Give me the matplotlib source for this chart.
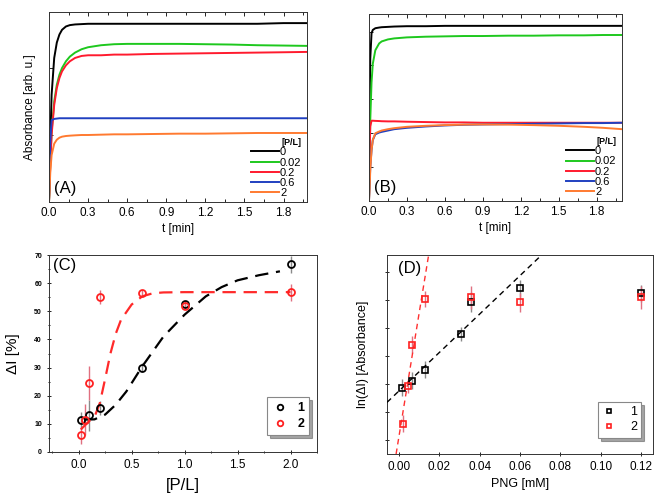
import matplotlib
matplotlib.use("Agg")
import matplotlib.pyplot as plt
import numpy as np

plt.rcParams['font.family'] = ['Liberation Sans', 'DejaVu Sans']

# ---------------- Panel A data ----------------
tA = [0.0, 0.01, 0.02, 0.04, 0.06, 0.08, 0.1, 0.13, 0.16, 0.2, 0.25, 0.3, 0.4, 0.5, 0.6, 0.8, 1.0, 1.2, 1.4, 1.6, 1.8, 1.98]
A_0 = [0.0, 0.9, 1.6, 2.15, 2.38, 2.5, 2.57, 2.62, 2.64, 2.65, 2.655, 2.66, 2.66, 2.66, 2.66, 2.66, 2.66, 2.66, 2.66, 2.66, 2.67, 2.67]
A_002 = [0.0, 0.6, 1.05, 1.5, 1.75, 1.9, 2.0, 2.1, 2.17, 2.23, 2.28, 2.31, 2.34, 2.355, 2.36, 2.36, 2.36, 2.355, 2.35, 2.34, 2.335, 2.33]
A_02 = [0.0, 0.55, 1.0, 1.45, 1.7, 1.85, 1.95, 2.04, 2.1, 2.15, 2.18, 2.19, 2.19, 2.2, 2.2, 2.21, 2.215, 2.22, 2.225, 2.23, 2.235, 2.24]
A_06 = [0.0, 0.9, 1.22, 1.24, 1.245, 1.25, 1.25, 1.25, 1.25, 1.25, 1.25, 1.25, 1.25, 1.25, 1.25, 1.25, 1.25, 1.25, 1.25, 1.25, 1.25, 1.25]
A_2 = [0.0, 0.45, 0.7, 0.87, 0.93, 0.96, 0.975, 0.985, 0.99, 0.995, 1.0, 1.0, 1.005, 1.01, 1.01, 1.015, 1.02, 1.02, 1.025, 1.03, 1.03, 1.03]

# ---------------- Panel B data ----------------
tB = [0.0, 0.005, 0.01, 0.02, 0.03, 0.05, 0.08, 0.1, 0.15, 0.2, 0.3, 0.45, 0.6, 0.75, 0.9, 1.1, 1.3, 1.5, 1.7, 1.85, 2.0]
B_0 = [0.0, 2.5, 4.2, 4.95, 5.05, 5.1, 5.12, 5.13, 5.14, 5.15, 5.16, 5.16, 5.17, 5.17, 5.17, 5.17, 5.17, 5.17, 5.17, 5.17, 5.17]
B_002 = [0.0, 1.3, 2.4, 3.5, 4.05, 4.45, 4.65, 4.71, 4.77, 4.8, 4.83, 4.85, 4.86, 4.87, 4.87, 4.88, 4.88, 4.89, 4.89, 4.9, 4.9]
B_02 = [0.0, 1.4, 2.2, 2.37, 2.37, 2.365, 2.36, 2.355, 2.35, 2.35, 2.34, 2.33, 2.32, 2.32, 2.31, 2.31, 2.31, 2.31, 2.31, 2.31, 2.31]
B_06 = [0.0, 0.5, 1.0, 1.5, 1.8, 1.97, 2.02, 2.04, 2.08, 2.12, 2.16, 2.2, 2.23, 2.25, 2.26, 2.27, 2.28, 2.29, 2.3, 2.3, 2.31]
B_2 = [0.0, 0.4, 0.9, 1.5, 1.8, 2.0, 2.05, 2.08, 2.12, 2.15, 2.19, 2.22, 2.24, 2.255, 2.26, 2.255, 2.24, 2.22, 2.19, 2.16, 2.12]

kin_labels = ['0', '0.02', '0.2', '0.6', '2']
kin_colors = ['#000000', '#1ec81e', '#ff1a2e', '#2040c0', '#ff7a30']

# ---------------- Panel C data ----------------
c1_x = [0.02, 0.1, 0.2, 0.6, 1.0, 2.0]
c1_y = [11.3, 13.0, 15.6, 30.0, 52.5, 66.7]
c1_err = [3.0, 5.5, 2.5, 1.5, 1.0, 3.0]
c2_x = [0.02, 0.06, 0.1, 0.2, 0.6, 1.0, 2.0]
c2_y = [5.9, 11.5, 24.5, 55.0, 56.6, 52.0, 56.7]
c2_err = [3.0, 5.5, 6.0, 2.5, 1.0, 1.0, 3.0]
c1_fit_x = [0.05, 0.15, 0.25, 0.35, 0.45, 0.6, 0.8, 1.0, 1.2, 1.35, 1.5, 1.7, 1.9]
c1_fit_y = [11.5, 11.6, 13.3, 16.8, 21.5, 30.4, 41.0, 48.8, 55.3, 58.6, 61.0, 62.8, 64.2]
c2_fit_x = [0.02, 0.1, 0.15, 0.2, 0.25, 0.3, 0.35, 0.4, 0.5, 0.6, 0.7, 0.8, 1.0, 1.5, 2.0]
c2_fit_y = [8.0, 11.0, 12.5, 17.4, 26.0, 35.0, 42.0, 47.0, 52.4, 55.3, 56.4, 56.7, 56.8, 56.8, 56.8]

# ---------------- Panel D data ----------------
d1_x = [0.0018, 0.0066, 0.0128, 0.0307, 0.036, 0.06, 0.12]
d1_y = [1.86, 2.11, 2.51, 3.79, 4.92, 5.40, 5.23]
d1_err = [0.3, 0.3, 0.3, 0.25, 0.35, 0.3, 0.3]
d2_x = [0.002, 0.0044, 0.0067, 0.0128, 0.036, 0.06, 0.12]
d2_y = [0.58, 1.91, 3.40, 5.02, 5.08, 4.90, 5.08]
d2_err = [0.3, 0.25, 0.3, 0.3, 0.4, 0.35, 0.4]
d1_fit_x = [-0.0058, 0.0707]
d1_fit_y = [1.34, 6.59]
d2_fit_x = [-0.0013, 0.0148]
d2_fit_y = [-0.5, 6.59]

W, H = 658, 501
fig = plt.figure(figsize=(W / 100, H / 100), dpi=100)


def ax_px(l, t, r, b):
    return fig.add_axes([l / W, 1 - b / H, (r - l) / W, (b - t) / H])


def kin_panel(ax, t, series, xmax, ymax, letter, leg_pos):
    for y, c, lab in zip(series, kin_colors, kin_labels):
        ax.plot(t, y, color=c, lw=1.4, label=lab)
    ax.set_xlim(0, xmax)
    ax.set_ylim(0, ymax)
    ax.set_xticks([0.0, 0.3, 0.6, 0.9, 1.2, 1.5, 1.8])
    ax.set_xticklabels(['0.0', '0.3', '0.6', '0.9', '1.2', '1.5', '1.8'], fontsize=8.5)
    ax.set_xticks(np.arange(0.15, 2.0, 0.3), minor=True)
    ax.set_yticks(np.arange(0, ymax, 1))
    ax.set_yticklabels([])
    ax.tick_params(axis='both', which='major', length=3, width=0.6, direction='in', top=True)
    ax.tick_params(axis='both', which='minor', length=2, width=0.6, direction='in', top=True)
    ax.set_xlabel('t [min]', fontsize=8.5, labelpad=3)
    ax.text(0.02, 0.03, letter, transform=ax.transAxes, fontsize=12, va='bottom', ha='left')
    for s in ax.spines.values():
        s.set_linewidth(0.7)
        s.set_color('#333333')
    ax.legend(loc='lower right', bbox_to_anchor=leg_pos, frameon=False, fontsize=8,
              title='[P/L]', title_fontproperties={'size': 6.5, 'weight': 'bold'},
              handlelength=2.5, handletextpad=0.1, labelspacing=0.02, borderpad=0.1,
              alignment='right')
    return ax


axA = ax_px(49, 12, 307, 202)
kin_panel(axA, tA, [A_0, A_002, A_02, A_06, A_2], 1.98, 190 / 67, '(A)', (1.005, -0.015))
axA.set_ylabel('Absorbance [arb. u.]', fontsize=8.5, labelpad=6)

axB = ax_px(369, 14, 622, 201)
kin_panel(axB, tB, [B_0, B_002, B_02, B_06, B_2], 2.0, 5.52, '(B)', (1.005, -0.015))

# ---------------- Panel C ----------------
axC = ax_px(49, 255, 317, 452)
axC.errorbar(c1_x, c1_y, yerr=c1_err, fmt='none', ecolor='#8a8a8a', elinewidth=1.0, zorder=2)
axC.errorbar(c2_x, c2_y, yerr=c2_err, fmt='none', ecolor='#e07080', elinewidth=1.0, zorder=2)
axC.plot(c1_fit_x, c1_fit_y, color='black', ls=(0, (6, 3.5)), lw=1.6, zorder=3)
axC.plot(c2_fit_x, c2_fit_y, color='#ff2a2a', ls=(0, (6, 3.5)), lw=1.6, zorder=3)
axC.plot(c1_x, c1_y, 'o', mfc='none', mec='black', mew=1.3, ms=5, label='1', zorder=4)
axC.plot(c2_x, c2_y, 'o', mfc='none', mec='#ff2020', mew=1.3, ms=5, label='2', zorder=4)
axC.set_xlim(-0.28, 2.24)
axC.set_ylim(0, 70)
axC.set_xticks([0.0, 0.5, 1.0, 1.5, 2.0])
axC.set_xticklabels(['0.0', '0.5', '1.0', '1.5', '2.0'], fontsize=8.5)
axC.set_yticks(np.arange(0, 71, 10))
axC.set_yticklabels([str(v) for v in range(0, 71, 10)], fontsize=5, fontweight='bold')
axC.set_yticks(np.arange(5, 70, 10), minor=True)
axC.set_xticks(np.arange(-0.25, 2.3, 0.25), minor=True)
axC.tick_params(axis='both', which='major', length=3, width=0.6, direction='inout')
axC.tick_params(axis='both', which='minor', length=2, width=0.6, direction='inout')
axC.set_xlabel('[P/L]', fontsize=12, labelpad=5)
axC.set_ylabel('\u0394I [%]', fontsize=11, labelpad=10)
axC.text(0.015, 0.985, '(C)', transform=axC.transAxes, fontsize=12, va='top', ha='left')
legC = axC.legend(loc='lower right', bbox_to_anchor=(0.995, 0.055), prop={'weight': 'bold', 'size': 9},
                  fancybox=False, shadow=True, edgecolor='#888888', handletextpad=0.8,
                  borderpad=0.4, labelspacing=0.3, markerscale=0.8, handlelength=1.2)
legC.get_frame().set_linewidth(0.8)

# ---------------- Panel D ----------------
axD = ax_px(387, 255, 653, 454)
axD.errorbar(d1_x, d1_y, yerr=d1_err, fmt='none', ecolor='#8a8a8a', elinewidth=1.0, zorder=2)
axD.errorbar(d2_x, d2_y, yerr=d2_err, fmt='none', ecolor='#e07080', elinewidth=1.0, zorder=2)
axD.plot(d1_fit_x, d1_fit_y, color='black', ls=(0, (4, 3)), lw=1.0, zorder=3)
axD.plot(d2_fit_x, d2_fit_y, color='#ff3030', ls=(0, (4, 3)), lw=1.0, zorder=3)
axD.plot(d1_x, d1_y, 's', mfc='none', mec='black', mew=1.2, ms=5, label='1', zorder=4)
axD.plot(d2_x, d2_y, 's', mfc='none', mec='#ff2020', mew=1.2, ms=5, label='2', zorder=4)
axD.set_xlim(-0.0058, 0.1258)
axD.set_ylim(-0.5, 6.59)
axD.set_xticks([0.0, 0.02, 0.04, 0.06, 0.08, 0.10, 0.12])
axD.set_xticklabels(['0.00', '0.02', '0.04', '0.06', '0.08', '0.10', '0.12'], fontsize=8.5)
axD.set_yticks(np.arange(0, 7, 1))
axD.set_yticklabels([])
axD.tick_params(axis='both', which='major', length=3, width=0.6, direction='inout')
axD.set_xlabel('PNG [mM]', fontsize=9, labelpad=4)
axD.set_ylabel('ln(\u0394I) [Absorbance]', fontsize=9, labelpad=8)
axD.text(0.04, 0.97, '(D)', transform=axD.transAxes, fontsize=12, va='top', ha='left')
legD = axD.legend(loc='lower right', bbox_to_anchor=(0.98, 0.05), fontsize=9,
                  fancybox=False, shadow=True, edgecolor='#888888', handletextpad=1.2,
                  borderpad=0.35, labelspacing=0.25, markerscale=0.7, handlelength=1.0)
legD.get_frame().set_linewidth(0.8)

for ax in (axC, axD):
    for s in ax.spines.values():
        s.set_linewidth(0.7)
        s.set_color('#333333')

fig.savefig('out.png', dpi=100)
